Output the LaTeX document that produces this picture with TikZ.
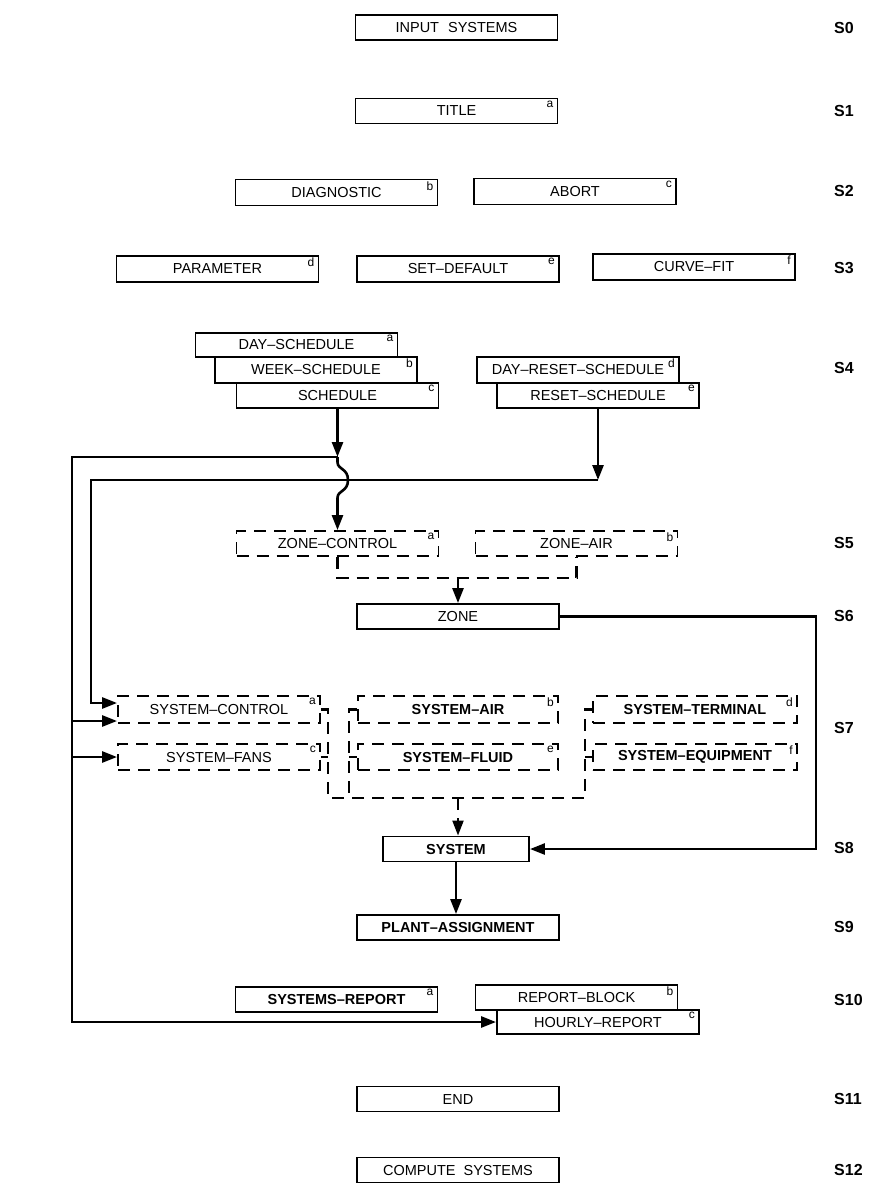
\documentclass[tikz,border=0pt]{standalone}
\usepackage{fontspec}
\setmainfont{Liberation Sans}
\usetikzlibrary{arrows.meta}
\begin{document}
\begin{tikzpicture}[x=1pt,y=-1pt,
  box/.style={draw, line width=1.9pt, rectangle, minimum height=25pt, minimum width=202pt, inner sep=0pt, font=\fontsize{14.5}{16}\selectfont},
  dbox/.style={box, dash pattern=on 12pt off 8pt},
  bftext/.style={font=\fontsize{14.5}{16}\selectfont\bfseries},
  suplab/.style={anchor=north east, inner sep=0pt, xshift=-5pt, yshift=-3pt, font=\fontsize{12}{13}\selectfont},
  conn/.style={line width=2.6pt},
  arr/.style={conn, -{Triangle[length=15pt,width=11pt]}},
  dconn/.style={line width=2.1pt, dash pattern=on 12pt off 8pt},
  darr/.style={dconn, -{Triangle[length=15pt,width=11pt]}},
  slab/.style={anchor=west, inner sep=0pt, font=\fontsize{16}{18}\selectfont\bfseries}
]
\useasboundingbox (0,0) rectangle (879,1186);
% S0 - S3
\node[box] (in) at (456.5,27.5) {INPUT\hspace{5pt} SYSTEMS};
\node[box, label={[suplab]north east:a}] (title) at (456.5,111) {TITLE};
\node[box, minimum height=26pt, label={[suplab]north east:b}] (diag) at (336.5,192.5) {DIAGNOSTIC};
\node[box, minimum height=26pt, label={[suplab]north east:c}] (abort) at (575,191.5) {ABORT};
\node[box, minimum height=26pt, label={[suplab]north east:d}] (param) at (217.5,269) {PARAMETER};
\node[box, minimum height=26pt, label={[suplab]north east:e}] (setdef) at (458,269) {SET--DEFAULT};
\node[box, minimum height=26pt, label={[suplab]north east:f}] (curve) at (694,267) {CURVE--FIT};
% S4
\node[box, minimum height=24pt, label={[suplab]north east:a}] (dsch) at (296.5,345) {DAY--SCHEDULE};
\node[box, minimum height=26pt, label={[suplab]north east:b}] (wsch) at (316,370) {WEEK--SCHEDULE};
\node[box, label={[suplab]north east:c}] (sch) at (337.5,395.5) {SCHEDULE};
\node[box, minimum height=26pt, label={[suplab]north east:d}] (drs) at (578,370) {DAY--RESET--SCHEDULE\hspace{6pt}};
\node[box, label={[suplab]north east:e}] (rs) at (598,395.5) {RESET--SCHEDULE};
% S5 - S6
\node[dbox, label={[suplab]north east:a}] (zc) at (337.5,543.5) {ZONE--CONTROL};
\node[dbox, label={[suplab]north east:b}] (za) at (576.5,543.5) {ZONE--AIR};
\node[box] (zone) at (458,616.5) {ZONE};
% S7
\node[dbox, minimum height=27pt, label={[suplab]north east:a}] (sc) at (219,709.5) {SYSTEM--CONTROL};
\node[dbox, bftext, minimum width=200pt, minimum height=27pt, label={[suplab]north east:b}] (sa) at (458,709.5) {SYSTEM--AIR};
\node[dbox, bftext, minimum width=204pt, minimum height=27pt, label={[suplab]north east:d}] (st) at (695,709.5) {SYSTEM--TERMINAL\hspace{4pt}};
\node[dbox, minimum height=26pt, label={[suplab]north east:c}] (sf) at (219,757) {SYSTEM--FANS};
\node[dbox, bftext, minimum width=200pt, minimum height=26pt, label={[suplab]north east:e}] (sfl) at (458,757) {SYSTEM--FLUID};
\node[dbox, bftext, minimum width=204pt, minimum height=26pt, label={[suplab]north east:f}] (se) at (695,757) {SYSTEM--EQUIPMENT\hspace{4pt}};
% S8 - S12
\node[box, bftext, minimum width=146pt] (sys) at (456,849) {SYSTEM};
\node[box, bftext] (plant) at (458,927.5) {PLANT--ASSIGNMENT};
\node[box, bftext, label={[suplab]north east:a}] (srep) at (336.5,999.5) {SYSTEMS--REPORT};
\node[box, label={[suplab]north east:b}] (rb) at (576.5,997.5) {REPORT--BLOCK};
\node[box, minimum height=24pt, label={[suplab]north east:c}] (hr) at (598,1022) {HOURLY--REPORT};
\node[box] (end) at (458,1099) {END};
\node[box] (comp) at (458,1170) {COMPUTE\hspace{4pt} SYSTEMS};
% step labels
\node[slab] (s0) at (834,27.5) {S0};
\node[slab] (s1) at (834,111) {S1};
\node[slab] (s2) at (834,191) {S2};
\node[slab] (s3) at (834,268) {S3};
\node[slab] (s4) at (834,368) {S4};
\node[slab] (s5) at (834,543) {S5};
\node[slab] (s6) at (834,616) {S6};
\node[slab] (s7) at (834,728) {S7};
\node[slab] (s8) at (834,848) {S8};
\node[slab] (s9) at (834,927) {S9};
\node[slab] (s10) at (834,1000) {S10};
\node[slab] (s11) at (834,1099) {S11};
\node[slab] (s12) at (834,1170) {S12};
% coordinates
\coordinate (j1) at (337.5,457);
\coordinate (oL) at (72,457);
\coordinate (b1) at (72,721);
\coordinate (b2) at (72,757);
\coordinate (j2) at (598,480);
\coordinate (iL) at (91,480);
\coordinate (iB) at (91,703);
\coordinate (h1) at (337.5,462);
\coordinate (h2) at (348,480);
\coordinate (h3) at (337.5,498);
\coordinate (rt) at (816,616.5);
\coordinate (m5) at (458,577);
\coordinate (m7) at (458,798);
% connectors
\draw[arr] (sch.south) -- (j1);
\draw[arr] (j1) -- (oL) |- (hr.west);
\draw[arr] (b1) -- (b1 -| sc.west);
\draw[arr] (b2) -- (sf.west);
\draw[arr] (rs.south) -- (j2);
\draw[arr] (j2) -- (iL) -- (iB) -- (iB -| sc.west);
\draw[arr] (j1) -- (h1) .. controls (337.5,470) and (348,468) .. (h2) .. controls (348,492) and (337.5,490) .. (h3) -- (zc.north);
\draw[dconn] (zc.south) -- ++(0,21) -| (za.south);
\draw[arr] (m5) -- (zone.north);
\draw[arr] (zone.east) -- (rt) |- (sys.east);
\draw[dconn] (sc.east) -- (328,709.5) -- (328,798) -- (585,798) -- (585,709.5) -- (st.west);
\draw[dconn] (sf.east) -- (328,757);
\draw[dconn] (sa.west) -- (349,709.5) -- (349,798);
\draw[dconn] (sfl.west) -- (349,757);
\draw[dconn] (se.west) -- (585,757);
\draw[darr] (m7) -- (m7 |- sys.north);
\draw[arr] (sys.south) -- (sys.south |- plant.north);
\end{tikzpicture}
\end{document}
